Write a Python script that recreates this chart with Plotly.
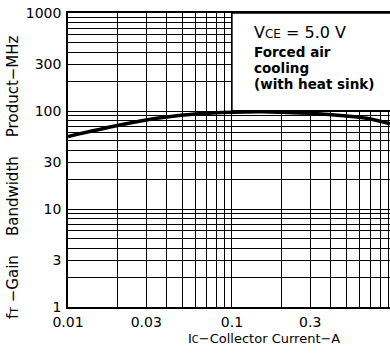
import numpy as np
import plotly.graph_objects as go

# Data
ic_amp = [0.01, 0.02, 0.03, 0.04, 0.06, 0.1, 0.15, 0.2, 0.3, 0.5, 0.7, 0.92]
ft_mhz = [55, 71, 81, 87, 93, 97, 98, 97, 95, 89, 83, 74]

x_tick_labels = {0.01: "0.01", 0.03: "0.03", 0.1: "0.1", 0.3: "0.3"}
y_tick_labels = {1: "1", 3: "3", 10: "10", 30: "30", 100: "100", 300: "300", 1000: "1000"}

W, H = 390, 355
L, R, T, B = 68, 0, 13, 48
PW, PH = W - L - R, H - T - B


def px(X):
    return (X - L) / PW


def py(Y):
    return (H - B - Y) / PH


# grid positions (log paper)
xgrid = [m * 10.0 ** e for e in (-2, -1) for m in range(1, 10)] + [1.0]
ygrid = [m * 10.0 ** e for e in (0, 1, 2) for m in range(1, 10)] + [1000.0]


def fmt(v, labels):
    for k, s in labels.items():
        if abs(v - k) / k < 1e-6:
            return s
    return ""


FONT = "DejaVu Sans"
SP = "\u00a0"

fig = go.Figure()
fig.add_trace(go.Scatter(
    x=ic_amp, y=ft_mhz, mode="lines",
    line=dict(color="black", width=3.5, shape="spline", smoothing=0.8),
    hoverinfo="skip", showlegend=False,
))

fig.update_layout(
    width=W, height=H,
    margin=dict(l=L, r=R, t=T, b=B, autoexpand=False),
    paper_bgcolor="white", plot_bgcolor="white",
    font=dict(family=FONT, size=14, color="black"),
    showlegend=False,
)
fig.update_xaxes(
    type="log", range=[np.log10(0.01), np.log10(0.92)],
    tickmode="array", tickvals=xgrid, ticktext=[fmt(v, x_tick_labels) for v in xgrid],
    showgrid=True, gridcolor="black", gridwidth=1.4,
    showline=True, linecolor="black", linewidth=1.6, mirror=True,
    ticks="", ticklabelstandoff=1, zeroline=False, automargin=False,
    tickfont=dict(family=FONT, size=14, color="black"),
)
fig.update_yaxes(
    type="log", range=[0, 3],
    tickmode="array", tickvals=ygrid, ticktext=[fmt(v, y_tick_labels) for v in ygrid],
    showgrid=True, gridcolor="black", gridwidth=1.4,
    showline=True, linecolor="black", linewidth=1.6,
    ticks="", ticklabelstandoff=2, zeroline=False, automargin=False,
    tickfont=dict(family=FONT, size=14, color="black"),
)

# white condition box
fig.add_shape(type="rect", xref="x", yref="y", x0=0.1, x1=1.0, y0=101, y1=1000,
              fillcolor="white", line=dict(color="black", width=1.4), layer="above")

ann = [
    ("V<span style='font-size:12px'>CE</span> = 5.0 V", 252, 33, 16, "normal"),
    ("Forced air", 252, 52, 13.5, "bold"),
    ("cooling", 252, 68, 13.5, "bold"),
    ("(with heat sink)", 252, 84, 13.5, "bold"),
]
for text, X, Y, size, weight in ann:
    fig.add_annotation(xref="paper", yref="paper", x=px(X), y=py(Y), text=text,
                       showarrow=False, xanchor="left", yanchor="middle",
                       font=dict(family=FONT, size=size, color="black", weight=weight))

fig.add_annotation(xref="paper", yref="paper", x=px(264), y=py(338),
                   text="I<span style='font-size:10px'>C</span>\u2212Collector Current\u2212A",
                   showarrow=False, xanchor="center", yanchor="middle",
                   font=dict(family=FONT, size=13, color="black"))
fig.add_annotation(xref="paper", yref="paper", x=px(13), y=py(177), textangle=-90,
                   text="f<span style='font-size:11px'>T</span>" + SP + "\u2212Gain" + SP * 4 +
                        "Bandwidth" + SP * 4 + "Product\u2212MHz",
                   showarrow=False, xanchor="center", yanchor="middle",
                   font=dict(family=FONT, size=15, color="black"))

fig.write_html("out.html", config={"displayModeBar": False},
               post_script="document.body.style.margin='0px';")
